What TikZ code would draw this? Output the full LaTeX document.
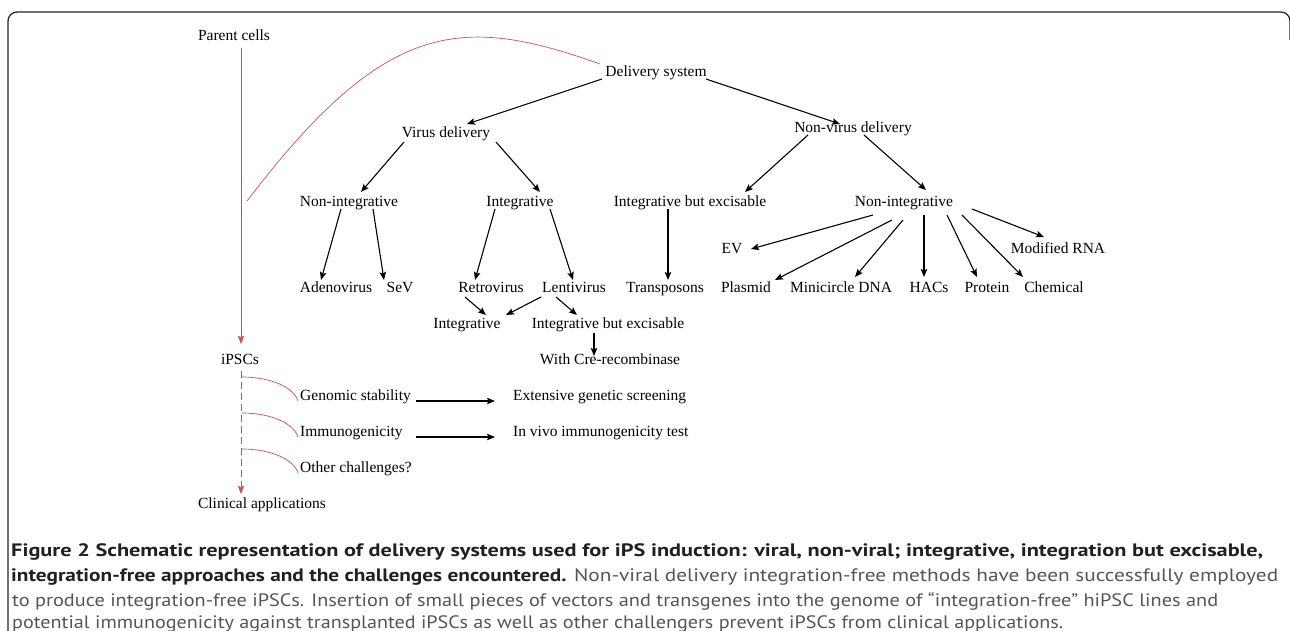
\documentclass[tikz,border=0pt]{standalone}
\usepackage{fontspec}
\usepackage{graphicx}
\setmainfont{Liberation Serif}
\newfontfamily\capfont{PT Sans}
\usetikzlibrary{arrows.meta,calc}
\definecolor{redline}{HTML}{C9514F}
\definecolor{capgrey}{HTML}{555555}
\definecolor{capblack}{HTML}{231F20}
\newlength\fitw
\newcommand\fitto[2]{\settowidth\fitw{#2}\pgfmathsetmacro\fitr{#1/\fitw}\scalebox{\fitr}[1]{#2}}
\begin{document}
\begin{tikzpicture}[x=1pt,y=-1pt,
  lab/.style={font=\fontsize{15.5}{18}\selectfont, inner sep=0pt, text height=10pt, text depth=0pt},
  arr/.style={-{Stealth[length=8pt,width=6.5pt,inset=1.5pt]}, line width=1.1pt},
  redcon/.style={draw=redline, line width=0.7pt},
  redtip/.style={-{Stealth[length=8pt,width=6pt,inset=1pt]}},
  capline/.style={anchor=base west, inner sep=0pt, font=\capfont\fontsize{18}{21}\selectfont}]
\useasboundingbox (0,0) rectangle (1290,631);
\draw[line width=1.3pt, draw=black!85, rounded corners=9pt] (8,640) -- (8,12) -- (1290,12) -- (1290,40);

% nodes
\node[lab] (pc) at (234,36) {Parent cells};
\node[lab] (ds) at (656,72) {Delivery system};
\node[lab] (vd) at (446,133) {Virus delivery};
\node[lab] (nvd) at (853,128) {Non-virus delivery};
\node[lab] (ni1) at (349,202) {Non-integrative};
\node[lab] (in1) at (520,202) {Integrative};
\node[lab] (ibe1) at (690,202) {Integrative but excisable};
\node[lab] (ni2) at (904,202) {Non-integrative};
\node[lab] (ad) at (336,287) {Adenovirus};
\node[lab] (sev) at (400,287) {SeV};
\node[lab] (retro) at (491,287) {Retrovirus};
\node[lab] (lenti) at (574,287) {Lentivirus};
\node[lab] (trans) at (665,287) {Transposons};
\node[lab] (ev) at (732,248) {EV};
\node[lab] (plas) at (746,287) {Plasmid};
\node[lab] (mini) at (841,287) {Minicircle DNA};
\node[lab] (hac) at (929,287) {HACs};
\node[lab] (prot) at (987,287) {Protein};
\node[lab] (chem) at (1054,287) {Chemical};
\node[lab] (mrna) at (1058,248) {Modified RNA};
\node[lab] (in2) at (467,323) {Integrative};
\node[lab] (ibe2) at (608,323) {Integrative but excisable};
\node[lab] (cre) at (610,359) {With Cre-recombinase};
\node[lab] (ipsc) at (240,359) {iPSCs};
\node[lab,anchor=west] (gs) at (300,395) {Genomic stability};
\node[lab,anchor=west] (imm) at (300,431) {Immunogenicity};
\node[lab,anchor=west] (oth) at (300,467) {Other challenges?};
\node[lab,anchor=west] (egs) at (513,395) {Extensive genetic screening};
\node[lab,anchor=west] (ivt) at (513,431) {In vivo immunogenicity test};
\node[lab] (ca) at (262,503) {Clinical applications};

% black connectors
\draw[arr] ($(ds)+(-54,7)$) -- ($(vd)+(21,-9)$);
\draw[arr] ($(ds)+(50,7)$) -- ($(nvd)+(-13,-4)$);
\draw[arr] ($(vd)+(-42,9)$) -- ($(ni1)+(12,-10)$);
\draw[arr] ($(vd)+(50,9)$) -- ($(in1)+(20,-10)$);
\draw[arr] ($(nvd)+(-45,7)$) -- ($(ibe1)+(55,-10)$);
\draw[arr] ($(nvd)+(11,7)$) -- ($(ni2)+(22,-12)$);
\draw[arr] ($(ni1)+(-8,7)$) -- ($(ad)+(-15,-7)$);
\draw[arr] ($(ni1)+(24,7)$) -- ($(sev)+(-16,-7)$);
\draw[arr] ($(in1)+(-25,7)$) -- ($(retro)+(-16,-7)$);
\draw[arr] ($(in1)+(30,7)$) -- ($(lenti)+(-1,-7)$);
\draw[arr] ($(ibe1)+(-22,7)$) -- ($(trans)+(3,-7)$);
\draw[arr] ($(ni2)+(-31,13)$) -- ($(ev)+(19,1)$);
\draw[arr] ($(ni2)+(-12,18)$) -- ($(plas)+(29,-7)$);
\draw[arr] ($(ni2)+(-1,18)$) -- ($(mini)+(14,-10)$);
\draw[arr] ($(ni2)+(20,13)$) -- ($(hac)+(-5,-10)$);
\draw[arr] ($(ni2)+(43,13)$) -- ($(prot)+(-10,-10)$);
\draw[arr] ($(ni2)+(58,13)$) -- ($(chem)+(-31,-10)$);
\draw[arr] ($(ni2)+(68,7)$) -- ($(mrna)+(-14,-11)$);
\draw[arr] ($(retro)+(-26,10)$) -- ($(in2)+(19,-8)$);
\draw[arr] ($(lenti)+(-33,10)$) -- ($(in2)+(39,-8)$);
\draw[arr] ($(lenti)+(-18,10)$) -- ($(ibe2)+(-31,-8)$);
\draw[arr] ($(ibe2)+(-14,10)$) -- ($(cre)+(-16,-3)$);
\draw[arr] ($(gs.west)+(116,6)$) -- ($(egs.west)+(-18,6)$);
\draw[arr] ($(imm.west)+(116,6)$) -- ($(ivt.west)+(-18,6)$);

% red connectors
\coordinate (arcs) at (247,201);
\draw[redcon] (arcs) .. controls (385,20) and (460,14) .. ($(ds)+(-56,-8)$);
\draw[redcon,redtip] ($(pc)+(7,12)$) -- ($(ipsc)+(1,-15)$);
\draw[redcon,redtip,dash pattern=on 7pt off 4pt] ($(ipsc)+(1,12)$) -- ($(ca)+(-21,-9)$);
\coordinate (b1) at (242,377);
\coordinate (b2) at (242,413);
\coordinate (b3) at (242,449);
\draw[redcon] (b1) .. controls (272,377) and (294,388) .. ($(gs.west)+(-2,6)$);
\draw[redcon] (b2) .. controls (272,413) and (294,424) .. ($(imm.west)+(-2,6)$);
\draw[redcon] (b3) .. controls (272,449) and (294,460) .. ($(oth.west)+(-2,6)$);

% caption
\node[capline] (c1) at (11,556) {\color{capblack}\fitto{1252}{\bfseries Figure 2 Schematic representation of delivery systems used for iPS induction: viral, non-viral; integrative, integration but excisable,}};
\node[capline] (c2) at (11,581) {\fitto{1267}{{\bfseries\color{capblack}integration-free approaches and the challenges encountered.} {\color{capgrey}Non-viral delivery integration-free methods have been successfully employed}}};
\node[capline] (c3) at (12,606) {\color{capgrey}\fitto{1206}{to produce integration-free iPSCs. Insertion of small pieces of vectors and transgenes into the genome of “integration-free” hiPSC lines and}};
\node[capline] (c4) at (12,628) {\color{capgrey}\fitto{1051}{potential immunogenicity against transplanted iPSCs as well as other challengers prevent iPSCs from clinical applications.}};
\end{tikzpicture}
\end{document}
